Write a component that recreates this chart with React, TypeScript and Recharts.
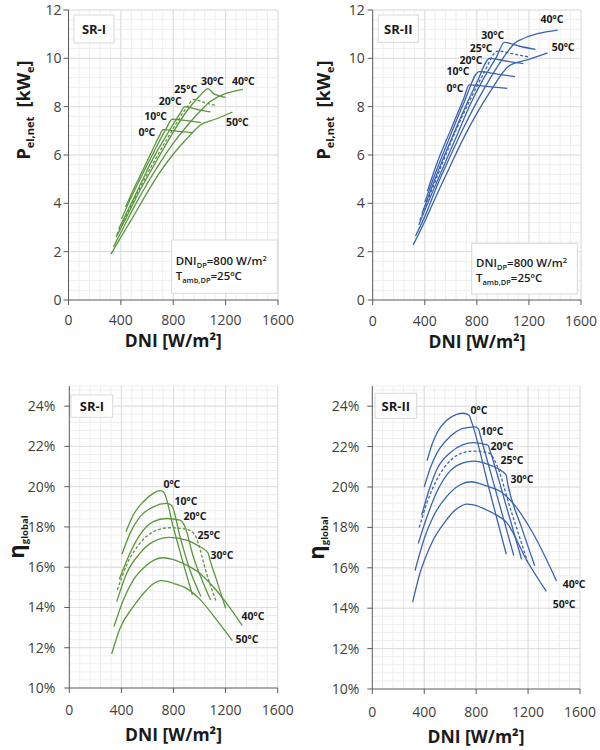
import React from 'react';
import { LineChart, Line, XAxis, YAxis, CartesianGrid, ReferenceDot } from 'recharts';

type Pt = [number, number];

const FONT = '"Open Sans", "Noto Sans", sans-serif';
const GREEN = '#5a963c';
const BLUE = '#3a63b1';
const TEXT = '#1a1a1a';
const TICK_TEXT = '#404040';
const AXIS = '#595959';

const temperatureLabels = ['0ºC', '10ºC', '20ºC', '25ºC', '30ºC', '40ºC', '50ºC'];
const dniTicks = [0, 400, 800, 1200, 1600];
const powerTicks = [0, 2, 4, 6, 8, 10, 12];
const efficiencyTicks = [10, 12, 14, 16, 18, 20, 22, 24];

// SR-I: net electric power [kWe] vs DNI [W/m2]
const pelSRI_0: Pt[] = [[435, 3.85], [490, 4.5], [570, 5.4], [645, 6.25], [695, 6.8], [722, 7.05], [840, 6.98], [952, 6.92]];
const pelSRI_10: Pt[] = [[405, 3.35], [466, 4.1], [542, 4.95], [645, 6.05], [747, 7.1], [792, 7.48], [900, 7.42], [1012, 7.34]];
const pelSRI_20: Pt[] = [[384, 2.95], [466, 3.85], [542, 4.7], [645, 5.85], [747, 6.8], [850, 7.7], [888, 8.0], [990, 7.88], [1085, 7.78]];
const pelSRI_25: Pt[] = [[369, 2.7], [440, 3.5], [542, 4.6], [645, 5.65], [773, 6.85], [901, 7.95], [958, 8.3], [1045, 8.15], [1126, 8.05]];
const pelSRI_30: Pt[] = [[364, 2.6], [440, 3.4], [542, 4.5], [645, 5.5], [773, 6.7], [901, 7.8], [1003, 8.45], [1066, 8.75], [1105, 8.55], [1150, 8.45], [1198, 8.38]];
const pelSRI_40: Pt[] = [[343, 2.2], [415, 2.95], [491, 3.75], [594, 4.75], [696, 5.65], [798, 6.47], [901, 7.18], [1003, 7.8], [1080, 8.2], [1333, 8.72]];
const pelSRI_50: Pt[] = [[325, 1.9], [389, 2.5], [491, 3.42], [594, 4.38], [696, 5.27], [798, 6.02], [901, 6.66], [1010, 7.25], [1131, 7.5], [1252, 7.78]];

// SR-II: net electric power [kWe] vs DNI [W/m2]
const pelSRII_0: Pt[] = [[420, 4.5], [500, 5.75], [600, 7.05], [700, 8.35], [742, 8.9], [890, 8.83], [1034, 8.76]];
const pelSRII_10: Pt[] = [[400, 4.05], [500, 5.5], [600, 6.85], [700, 8.15], [818, 9.45], [955, 9.35], [1093, 9.24]];
const pelSRII_20: Pt[] = [[380, 3.6], [450, 4.6], [500, 5.3], [600, 6.6], [700, 7.85], [800, 9.0], [900, 10.0], [1030, 9.88], [1157, 9.78]];
const pelSRII_25: Pt[] = [[362, 3.3], [450, 4.5], [550, 5.85], [650, 7.15], [750, 8.3], [850, 9.35], [960, 10.3], [1080, 10.18], [1205, 10.05]];
const pelSRII_30: Pt[] = [[354, 3.1], [450, 4.35], [550, 5.6], [650, 6.85], [750, 8.1], [850, 9.15], [950, 10.05], [1012, 10.66], [1130, 10.5], [1250, 10.37]];
const pelSRII_40: Pt[] = [[329, 2.65], [400, 3.45], [500, 4.8], [600, 6.0], [700, 7.15], [800, 8.2], [900, 9.15], [1000, 10.0], [1110, 10.7], [1421, 11.17]];
const pelSRII_50: Pt[] = [[311, 2.28], [400, 3.25], [500, 4.45], [600, 5.6], [700, 6.72], [800, 7.72], [900, 8.6], [1050, 9.7], [1200, 9.96], [1344, 10.23]];

// SR-I: global efficiency [%] vs DNI [W/m2]
const etaSRI_0: Pt[] = [[435, 17.76], [491, 18.59], [568, 19.25], [645, 19.67], [696, 19.8], [725, 19.72], [800, 17.95], [870, 16.3], [945, 14.62]];
const etaSRI_10: Pt[] = [[405, 16.65], [466, 17.68], [542, 18.5], [645, 19.0], [747, 19.17], [786, 19.07], [850, 17.51], [926, 15.86], [1011, 14.54]];
const etaSRI_20: Pt[] = [[384, 15.4], [466, 16.69], [542, 17.6], [645, 18.26], [747, 18.42], [850, 18.34], [888, 18.01], [952, 16.52], [1029, 15.2], [1085, 14.37]];
const etaSRI_25: Pt[] = [[369, 14.87], [440, 16.11], [542, 17.18], [645, 17.76], [773, 17.96], [901, 17.88], [965, 17.6], [990, 17.18], [1054, 15.69], [1126, 14.32]];
const etaSRI_30: Pt[] = [[364, 14.29], [440, 15.69], [542, 16.69], [645, 17.27], [773, 17.48], [901, 17.35], [1003, 17.02], [1067, 16.69], [1080, 16.36], [1131, 15.36], [1200, 13.96]];
const etaSRI_40: Pt[] = [[343, 13.05], [415, 14.37], [491, 15.36], [594, 16.1], [650, 16.35], [720, 16.47], [800, 16.38], [901, 16.1], [1003, 15.69], [1105, 15.03], [1208, 14.2], [1328, 13.1]];
const etaSRI_50: Pt[] = [[325, 11.69], [389, 12.96], [491, 14.04], [594, 14.87], [650, 15.2], [700, 15.33], [750, 15.3], [800, 15.2], [901, 14.95], [1003, 14.4], [1131, 13.38], [1252, 12.35]];

// SR-II: global efficiency [%] vs DNI [W/m2]
const etaSRII_0: Pt[] = [[422, 21.3], [460, 22.1], [500, 22.7], [573, 23.3], [650, 23.6], [700, 23.65], [745, 23.55], [766, 23.2], [900, 19.9], [1032, 16.67]];
const etaSRII_10: Pt[] = [[400, 20.0], [450, 21.0], [500, 21.7], [600, 22.5], [700, 22.9], [790, 22.98], [818, 22.88], [830, 22.6], [960, 19.6], [1090, 16.6]];
const etaSRII_20: Pt[] = [[380, 18.6], [440, 19.9], [500, 20.9], [600, 21.7], [700, 22.1], [777, 22.2], [892, 22.07], [905, 21.83], [1030, 19.1], [1150, 16.42]];
const etaSRII_25: Pt[] = [[362, 18.0], [420, 19.2], [500, 20.4], [600, 21.3], [700, 21.7], [790, 21.78], [905, 21.66], [944, 21.3], [1070, 18.8], [1195, 16.31]];
const etaSRII_30: Pt[] = [[354, 17.2], [420, 18.5], [500, 19.8], [600, 20.8], [700, 21.2], [777, 21.28], [900, 21.1], [1030, 20.6], [1045, 20.1], [1150, 18.0], [1251, 16.1]];
const etaSRII_40: Pt[] = [[329, 15.86], [405, 17.54], [469, 18.53], [572, 19.52], [674, 20.1], [760, 20.26], [880, 20.05], [982, 19.8], [1085, 19.19], [1238, 17.71], [1419, 15.35]];
const etaSRII_50: Pt[] = [[311, 14.3], [367, 15.73], [418, 16.64], [469, 17.38], [572, 18.37], [620, 18.75], [674, 19.02], [726, 19.15], [780, 19.12], [850, 18.95], [931, 18.7], [1040, 18.2], [1187, 16.4], [1341, 14.83]];

// Temperature tag anchors (DNI, y) for each panel, same order as temperatureLabels
const tagsPelSRI: Pt[] = [[599, 6.96], [665, 7.62], [777, 8.22], [895, 8.7], [1099, 9.06], [1336, 9.06], [1289, 7.36]];
const tagsPelSRII: Pt[] = [[632, 8.78], [655, 9.45], [755, 9.93], [832, 10.41], [922, 10.96], [1377, 11.63], [1462, 10.44]];
const tagsEtaSRI: Pt[] = [[788, 20.13], [896, 19.29], [965, 18.51], [1072, 17.6], [1172, 16.6], [1410, 13.54], [1364, 12.42]];
const tagsEtaSRII: Pt[] = [[822, 23.8], [922, 22.78], [999, 22.02], [1076, 21.33], [1153, 20.38], [1554, 15.19], [1477, 14.17]];

const steps = (from: number, to: number, step: number) => {
  const out: number[] = [];
  for (let v = from; v <= to + 1e-9; v += step) out.push(Math.round(v * 100) / 100);
  return out;
};

const dniMinor = steps(80, 1600, 80);
const dniMajor = dniTicks.slice(1);
const powerMinor = steps(0.4, 12, 0.4);
const powerMajor = powerTicks.slice(1);
const etaMinor = [...steps(10.4, 24.8, 0.4), 25];
const etaMajor = efficiencyTicks.slice(1);

interface PanelProps {
  left: number;
  top: number;
  margin: { top: number; right: number; bottom: number; left: number };
  yAxisWidth: number;
  xAxisHeight: number;
  yDomain: [number, number];
  yTicks: number[];
  yMinor: number[];
  yMajor: number[];
  percent: boolean;
  color: string;
  series: Pt[][];
  tags: Pt[];
  xTickMargin: number;
  yTickMargin: number;
}

function Panel(p: PanelProps) {
  return (
    <div style={{ position: 'absolute', left: p.left, top: p.top }}>
      <LineChart width={300} height={375} margin={p.margin}>
        <CartesianGrid stroke="#eeeeee" strokeWidth={1} verticalValues={dniMinor} horizontalValues={p.yMinor} />
        <CartesianGrid stroke="#dddddd" strokeWidth={1} verticalValues={dniMajor} horizontalValues={p.yMajor} />
        <XAxis
          dataKey="x"
          type="number"
          domain={[0, 1600]}
          ticks={dniTicks}
          interval={0}
          allowDataOverflow
          height={p.xAxisHeight}
          tickSize={5}
          tickMargin={p.xTickMargin}
          stroke={AXIS}
          tick={{ fill: TICK_TEXT, fontSize: 14, fontFamily: FONT }}
        />
        <YAxis
          type="number"
          domain={p.yDomain}
          ticks={p.yTicks}
          interval={0}
          allowDataOverflow
          width={p.yAxisWidth}
          tickSize={5}
          tickMargin={p.yTickMargin}
          stroke={AXIS}
          tick={{ fill: TICK_TEXT, fontSize: 14, fontFamily: FONT }}
          tickFormatter={(v: number) => (p.percent ? `${v}%` : `${v}`)}
        />
        {p.series.map((pts, i) => (
          <Line
            key={temperatureLabels[i]}
            data={pts.map(([x, y]) => ({ x, y }))}
            dataKey="y"
            type="monotone"
            stroke={p.color}
            strokeWidth={1.3}
            strokeDasharray={i === 3 ? '3 2' : undefined}
            dot={false}
            activeDot={false}
            isAnimationActive={false}
          />
        ))}
        {p.tags.map(([x, y], i) => (
          <ReferenceDot
            key={`tag-${i}`}
            x={x}
            y={y}
            r={0}
            fill="none"
            stroke="none"
            ifOverflow="visible"
            label={{
              value: temperatureLabels[i],
              position: 'center',
              fill: TEXT,
              fontSize: 10.5,
              fontWeight: 700,
              fontFamily: FONT,
            }}
          />
        ))}
      </LineChart>
    </div>
  );
}

function PowerTitle({ x, y }: { x: number; y: number }) {
  return (
    <text x={x} y={y} transform={`rotate(-90 ${x} ${y})`} textAnchor="middle" fontFamily={FONT} fontWeight={700} fontSize={18} fill={TEXT}>
      P<tspan fontSize={11} dy={4}>el,net</tspan>
      <tspan dy={-4}>{'\u00a0\u00a0[kW'}</tspan>
      <tspan fontSize={11} dy={4}>e</tspan>
      <tspan dy={-4}>]</tspan>
    </text>
  );
}

function EtaTitle({ x, y }: { x: number; y: number }) {
  return (
    <text x={x} y={y} transform={`rotate(-90 ${x} ${y})`} textAnchor="middle" fontFamily={FONT} fontWeight={700} fontSize={22} fill={TEXT}>
      η<tspan fontSize={9.5} dy={4}>global</tspan>
    </text>
  );
}

function DniTitle({ x, y }: { x: number; y: number }) {
  return (
    <text x={x} y={y} textAnchor="middle" fontFamily={FONT} fontWeight={700} fontSize={17.5} fill={TEXT}>
      DNI [W/m²]
    </text>
  );
}

function CaseBox({ x, y, w, h, text, baseline }: { x: number; y: number; w: number; h: number; text: string; baseline: number }) {
  return (
    <g>
      <rect x={x} y={y} width={w} height={h} fill="#ffffff" stroke="#d9d9d9" strokeWidth={1} />
      <text x={x + w / 2} y={baseline} textAnchor="middle" fontFamily={FONT} fontWeight={700} fontSize={13} fill={TEXT}>
        {text}
      </text>
    </g>
  );
}

function DesignBox({ x, y, w, h, tx, b1, b2 }: { x: number; y: number; w: number; h: number; tx: number; b1: number; b2: number }) {
  return (
    <g fontFamily={FONT} fontWeight={600} fill={TEXT}>
      <rect x={x} y={y} width={w} height={h} fill="#ffffff" stroke="#d9d9d9" strokeWidth={1} />
      <text x={tx} y={b1} fontSize={11.5}>
        DNI<tspan fontSize={7.5} dy={3}>DP</tspan>
        <tspan dy={-3}>=800 W/m</tspan>
        <tspan fontSize={7.5} dy={-4}>2</tspan>
      </text>
      <text x={tx} y={b2} fontSize={11.5}>
        T<tspan fontSize={7.5} dy={3}>amb,DP</tspan>
        <tspan dy={-3}>=25ºC</tspan>
      </text>
    </g>
  );
}

export default function App() {
  return (
    <div style={{ position: 'absolute', left: 0, top: 0, width: 600, height: 750, background: '#ffffff' }}>
      <Panel
        left={0}
        top={0}
        margin={{ top: 10, right: 22, bottom: 0, left: 0 }}
        yAxisWidth={68.5}
        xAxisHeight={75}
        yDomain={[0, 12]}
        yTicks={powerTicks}
        yMinor={powerMinor}
        yMajor={powerMajor}
        percent={false}
        color={GREEN}
        series={[pelSRI_0, pelSRI_10, pelSRI_20, pelSRI_25, pelSRI_30, pelSRI_40, pelSRI_50]}
        tags={tagsPelSRI}
        xTickMargin={10}
        yTickMargin={2}
      />
      <Panel
        left={300}
        top={0}
        margin={{ top: 10, right: 19, bottom: 0, left: 0 }}
        yAxisWidth={72.7}
        xAxisHeight={75}
        yDomain={[0, 12]}
        yTicks={powerTicks}
        yMinor={powerMinor}
        yMajor={powerMajor}
        percent={false}
        color={BLUE}
        series={[pelSRII_0, pelSRII_10, pelSRII_20, pelSRII_25, pelSRII_30, pelSRII_40, pelSRII_50]}
        tags={tagsPelSRII}
        xTickMargin={11}
        yTickMargin={3}
      />
      <Panel
        left={0}
        top={375}
        margin={{ top: 11, right: 22.3, bottom: 0, left: 0 }}
        yAxisWidth={69.3}
        xAxisHeight={62}
        yDomain={[10, 25]}
        yTicks={efficiencyTicks}
        yMinor={etaMinor}
        yMajor={etaMajor}
        percent={true}
        color={GREEN}
        series={[etaSRI_0, etaSRI_10, etaSRI_20, etaSRI_25, etaSRI_30, etaSRI_40, etaSRI_50]}
        tags={tagsEtaSRI}
        xTickMargin={12.5}
        yTickMargin={9}
      />
      <Panel
        left={300}
        top={375}
        margin={{ top: 11, right: 20, bottom: 0, left: 0 }}
        yAxisWidth={72.3}
        xAxisHeight={61}
        yDomain={[10, 25]}
        yTicks={efficiencyTicks}
        yMinor={etaMinor}
        yMajor={etaMajor}
        percent={true}
        color={BLUE}
        series={[etaSRII_0, etaSRII_10, etaSRII_20, etaSRII_25, etaSRII_30, etaSRII_40, etaSRII_50]}
        tags={tagsEtaSRII}
        xTickMargin={13}
        yTickMargin={8}
      />
      <svg width={600} height={750} style={{ position: 'absolute', left: 0, top: 0, pointerEvents: 'none' }}>
        <PowerTitle x={30} y={110} />
        <PowerTitle x={330} y={110} />
        <EtaTitle x={24} y={537} />
        <EtaTitle x={324} y={538} />
        <DniTitle x={173.3} y={347} />
        <DniTitle x={477} y={348} />
        <DniTitle x={173.5} y={741} />
        <DniTitle x={476} y={743} />
        <CaseBox x={74} y={15} w={40} h={28} text="SR-I" baseline={34} />
        <CaseBox x={378.3} y={15} w={40} h={27.3} text="SR-II" baseline={34} />
        <CaseBox x={71} y={395} w={41.7} h={22.3} text="SR-I" baseline={410.7} />
        <CaseBox x={375} y={393.3} w={41.7} h={25} text="SR-II" baseline={410.7} />
        <DesignBox x={171.7} y={240} w={105.6} h={53.3} tx={175.7} b1={265} b2={280} />
        <DesignBox x={471.7} y={243.3} w={105.6} h={50.7} tx={476} b1={266.7} b2={281.7} />
      </svg>
    </div>
  );
}
